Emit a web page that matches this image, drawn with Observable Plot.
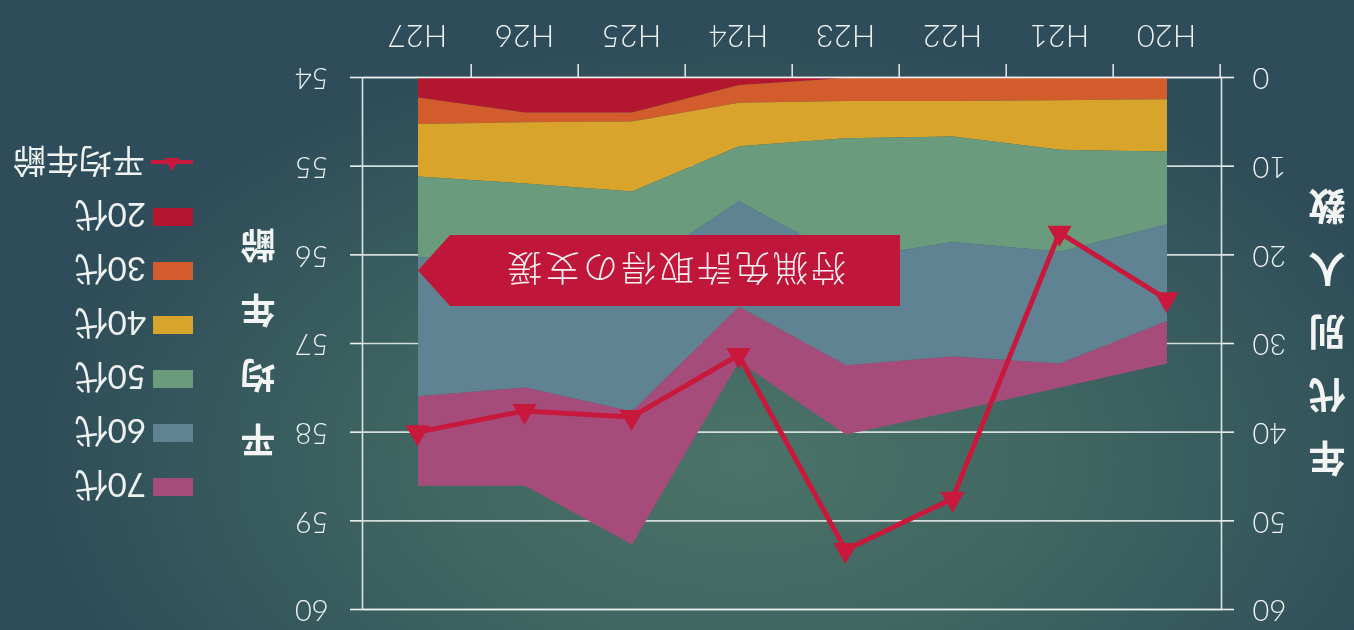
<!DOCTYPE html>
<html>
<head>
<meta charset="utf-8">
<script src="https://cdn.jsdelivr.net/npm/d3@7"></script>
<script src="https://cdn.jsdelivr.net/npm/@observablehq/plot@0.6"></script>
<style>
  html, body { margin: 0; padding: 0; width: 1354px; height: 630px; overflow: hidden; background: #2d4b58; }
  #stage {
    position: relative; width: 1354px; height: 630px;
    transform: rotate(180deg); transform-origin: 50% 50%;
    background: radial-gradient(ellipse 720px 430px at 610px 170px, #4b7368 0%, #3f6661 45%, #2e4c59 100%);
    font-family: Lato, "Noto Sans CJK JP", sans-serif; color: #eef2f1;
  }
  #chart { position: absolute; left: 0; top: 0; }
  .vtitle {
    position: absolute; display: flex; flex-direction: column; align-items: center;
    font-family: "Noto Sans CJK JP", sans-serif; font-weight: 700; color: #f2f5f4;
    transform: translate(-50%, -50%);
  }
  .vtitle span { display: block; }
  #titleLeft { left: 27px; top: 296px; font-size: 37px; }
  #titleLeft span { height: 63px; line-height: 63px; }
  #titleRight { left: 1096px; top: 285px; font-size: 35px; }
  #titleRight span { height: 65px; line-height: 65px; }
  #legend { position: absolute; left: 1161px; top: 116px; display: flex; flex-direction: column; }
  .item { height: 54px; display: flex; align-items: center; font-size: 33px; font-weight: 400; }
  .sw { width: 40px; height: 18px; margin-right: 7px; }
  .item svg { margin-right: 6px; }
  #callout {
    position: absolute; left: 454px; top: 324px; width: 482px; height: 71px;
    background: #c0163a;
    clip-path: polygon(0 0, 450px 0, 482px 35.5px, 450px 71px, 0 71px);
    display: flex; align-items: center; justify-content: center;
    padding-right: 32px; box-sizing: border-box;
    font-family: "Noto Sans CJK JP", sans-serif; font-weight: 300; font-size: 35px;
    letter-spacing: 3px; color: #fbeff1;
  }
</style>
</head>
<body>
<div id="stage">
  <div id="chart"></div>
  <div id="titleLeft" class="vtitle"></div>
  <div id="titleRight" class="vtitle"></div>
  <div id="legend"></div>
  <div id="callout"></div>
</div>
<script>
// ---- data ----
const years = ["H20", "H21", "H22", "H23", "H24", "H25", "H26", "H27"];
const ageGroups = ["20代", "30代", "40代", "50代", "60代", "70代"];
const count20 = [0, 0, 0, 0, 0.8, 3.9, 3.9, 2.2];
const count30 = [2.4, 2.5, 2.6, 2.6, 2.0, 1.0, 1.1, 3.0];
const count40 = [5.9, 5.6, 4.0, 4.2, 4.9, 7.9, 6.9, 5.9];
const count50 = [8.2, 11.5, 11.9, 13.6, 6.2, 9.1, 9.1, 9.1];
const count60 = [10.9, 12.6, 12.9, 12.0, 11.9, 15.7, 13.9, 15.7];
const count70 = [4.8, 2.7, 6.2, 7.8, 6.2, 15.0, 11.1, 10.1];
const averageAge = [56.5, 55.75, 58.75, 59.33, 57.13, 57.83, 57.76, 58.0];
const countTicks = [0, 10, 20, 30, 40, 50, 60];
const ageTicks = [54, 55, 56, 57, 58, 59, 60];
const countTitle = "年代別人数";
const ageTitle = "平均年齢";
const annotationText = "狩猟免許取得の支援";

// ---- styles ----
const groupColors = ["#b3172f", "#d35c2c", "#d9a42c", "#6a9b7d", "#5f8392", "#a64c7a"];
const lineColor = "#c8193c";
const inkColor = "#eef2f1";

// ---- build ----
const series = [count20, count30, count40, count50, count60, count70];
const rows = [];
ageGroups.forEach((g, i) => years.forEach((yr, j) => rows.push({year: yr, group: g, count: series[i][j]})));
const ageRows = years.map((yr, j) => ({year: yr, age: averageAge[j]}));
const cMax = countTicks[countTicks.length - 1];
const aMin = ageTicks[0], aMax = ageTicks[ageTicks.length - 1];
const ageToY = a => (a - aMin) * cMax / (aMax - aMin);
const yToAge = v => aMin + v * (aMax - aMin) / cMax;

const W = 1354, H = 630, mL = 132, mR = 363, mT = 20, mB = 78;
const halfStep = (W - mL - mR) / years.length / 2;

const chart = Plot.plot({
  width: W, height: H,
  marginLeft: mL, marginRight: mR, marginTop: mT, marginBottom: mB,
  style: {background: "transparent", color: inkColor, fontFamily: "Lato, 'Noto Sans CJK JP', sans-serif", fontSize: "29px", fontWeight: 300},
  x: {type: "point", domain: years, padding: 0.5, label: null},
  y: {domain: [0, cMax], label: null},
  color: {domain: ageGroups, range: groupColors},
  marks: [
    Plot.gridY({ticks: countTicks, stroke: inkColor, strokeOpacity: 0.85, strokeWidth: 1.6}),
    Plot.areaY(rows, {x: "year", y: "count", fill: "group", order: null}),
    Plot.frame({stroke: inkColor, strokeOpacity: 0.9, strokeWidth: 1.6}),
    Plot.axisX({ticks: years, tickSize: 14, tickFormat: () => "", dx: -halfStep, strokeWidth: 1.6, strokeOpacity: 0.9}),
    Plot.axisX({ticks: years, tickSize: 0, tickPadding: 30, fontSize: 31}),
    Plot.axisY({ticks: countTicks, anchor: "left", tickSize: 12, tickPadding: 19, label: null, strokeWidth: 1.6, fontSize: 29}),
    Plot.axisY({ticks: ageTicks.map(ageToY), tickFormat: v => String(Math.round(yToAge(v))), anchor: "right", tickSize: 12, tickPadding: 22, label: null, strokeWidth: 1.6, fontSize: 29}),
    Plot.line(ageRows, {x: "year", y: d => ageToY(d.age), stroke: lineColor, strokeWidth: 5}),
    Plot.dot(ageRows, {x: "year", y: d => ageToY(d.age), symbol: "triangle", r: 9, fill: lineColor, stroke: "none"})
  ]
});
document.getElementById("chart").appendChild(chart);

function fillVertical(id, text) {
  const el = document.getElementById(id);
  for (const ch of text) {
    const s = document.createElement("span");
    s.textContent = ch;
    el.appendChild(s);
  }
}
fillVertical("titleLeft", countTitle);
fillVertical("titleRight", ageTitle);
document.getElementById("callout").textContent = annotationText;

const legend = document.getElementById("legend");
ageGroups.slice().reverse().forEach(g => {
  const it = document.createElement("div");
  it.className = "item";
  const sw = document.createElement("div");
  sw.className = "sw";
  sw.style.background = groupColors[ageGroups.indexOf(g)];
  it.appendChild(sw);
  it.appendChild(document.createTextNode(g));
  legend.appendChild(it);
});
const lineItem = document.createElement("div");
lineItem.className = "item";
lineItem.innerHTML = `<svg width="42" height="24" viewBox="0 0 42 24"><line x1="0" y1="13" x2="42" y2="13" stroke="${lineColor}" stroke-width="4"/><path d="M21,4 L29,17 L13,17 Z" fill="${lineColor}"/></svg>`;
lineItem.appendChild(document.createTextNode(ageTitle));
legend.appendChild(lineItem);
</script>
</body>
</html>
